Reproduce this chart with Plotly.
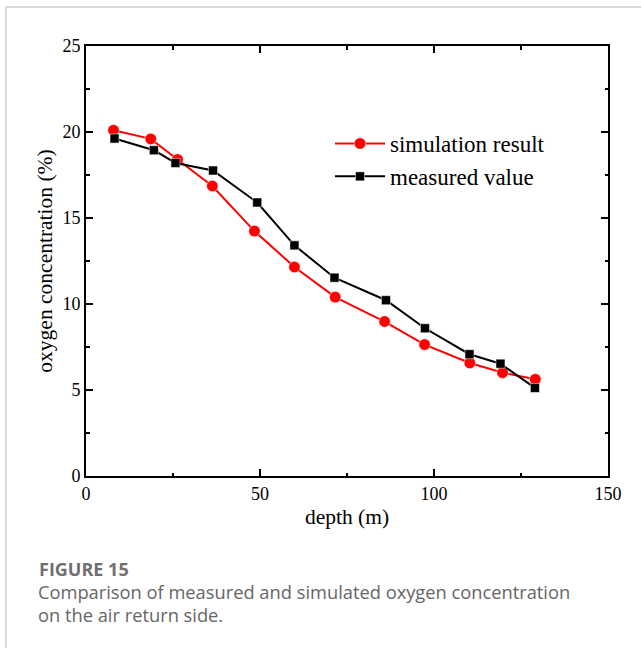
import plotly.graph_objects as go

# Data
sim_depth = [7.9, 18.6, 26.3, 36.3, 48.4, 59.9, 71.6, 85.8, 97.3, 110.3, 119.7, 129.1]
sim_o2 = [20.1, 19.6, 18.4, 16.86, 14.24, 12.15, 10.4, 8.98, 7.64, 6.57, 6.01, 5.62]
meas_depth = [8.2, 19.5, 25.7, 36.5, 49.2, 59.9, 71.4, 86.2, 97.4, 110.2, 119.1, 129.0]
meas_o2 = [19.62, 18.94, 18.2, 17.76, 15.9, 13.41, 11.53, 10.22, 8.59, 7.08, 6.53, 5.12]

x_ticks = [0, 50, 100, 150]
y_ticks = [0, 5, 10, 15, 20, 25]

serif = "Liberation Serif, Times New Roman, serif"
sans = "Open Sans, Noto Sans, sans-serif"

# plot area in pixels
L, R, T, B = 86, 608, 46, 476
PW, PH = R - L, B - T


def px(xp):
    return (xp - L) / PW


def py(yp):
    return (B - yp) / PH


fig = go.Figure()
fig.add_trace(go.Scatter(
    x=sim_depth, y=sim_o2, mode="lines+markers", name="simulation result",
    line=dict(color="#ff0000", width=2),
    marker=dict(symbol="circle", size=11.5, color="#ff0000", line=dict(color="white", width=0.5)),
))
fig.add_trace(go.Scatter(
    x=meas_depth, y=meas_o2, mode="lines+markers", name="measured value",
    line=dict(color="#000000", width=2),
    marker=dict(symbol="square", size=9, color="#000000", line=dict(color="white", width=0.5)),
))

axis_common = dict(
    showline=True, linecolor="black", linewidth=2, mirror="ticks",
    ticks="inside", ticklen=7, tickwidth=1.5, tickcolor="black",
    showgrid=False, zeroline=False,
    tickfont=dict(family=serif, size=18, color="black"),
)

fig.update_xaxes(
    range=[0, 150], tickvals=x_ticks,
    title=dict(text="depth (m)", font=dict(family=serif, size=21.5, color="black"), standoff=6),
    minor=dict(ticks="inside", ticklen=3.5, tickwidth=1.5, tickcolor="black", dtick=25, tick0=0),
    **axis_common,
)
fig.update_yaxes(
    range=[0, 25], tickvals=y_ticks,
    title=dict(text="oxygen concentration (%)", font=dict(family=serif, size=21.5, color="black"), standoff=4),
    minor=dict(ticks="inside", ticklen=3.5, tickwidth=1.5, tickcolor="black", dtick=2.5, tick0=0),
    **axis_common,
)

fig.update_layout(
    width=641, height=648,
    margin=dict(l=L, r=641 - R, t=T, b=648 - B),
    paper_bgcolor="white", plot_bgcolor="white",
    font=dict(family=serif, size=18, color="black"),
    showlegend=True,
    legend=dict(
        x=px(330), y=py(122), xanchor="left", yanchor="top",
        font=dict(family=serif, size=23, color="black"),
        bgcolor="rgba(0,0,0,0)", itemwidth=50, tracegroupgap=0,
    ),
)

# Card border
fig.add_shape(type="line", xref="paper", yref="paper",
              x0=px(6), x1=px(6), y0=py(648), y1=py(7),
              line=dict(color="#cccccc", width=1.5))
fig.add_shape(type="line", xref="paper", yref="paper",
              x0=px(6), x1=px(641), y0=py(7), y1=py(7),
              line=dict(color="#cccccc", width=1.5))

# Caption
fig.add_annotation(text="<b>FIGURE 15</b>", xref="paper", yref="paper",
                   x=px(37), y=py(569), xanchor="left", yanchor="middle",
                   showarrow=False, font=dict(family=sans, size=18, color="#707070"))
fig.add_annotation(text="Comparison of measured and simulated oxygen concentration",
                   xref="paper", yref="paper",
                   x=px(36), y=py(591), xanchor="left", yanchor="middle",
                   showarrow=False, font=dict(family=sans, size=18.3, color="#666666"))
fig.add_annotation(text="on the air return side.",
                   xref="paper", yref="paper",
                   x=px(36), y=py(614), xanchor="left", yanchor="middle",
                   showarrow=False, font=dict(family=sans, size=18.3, color="#666666"))

fig.write_html("out.html")
